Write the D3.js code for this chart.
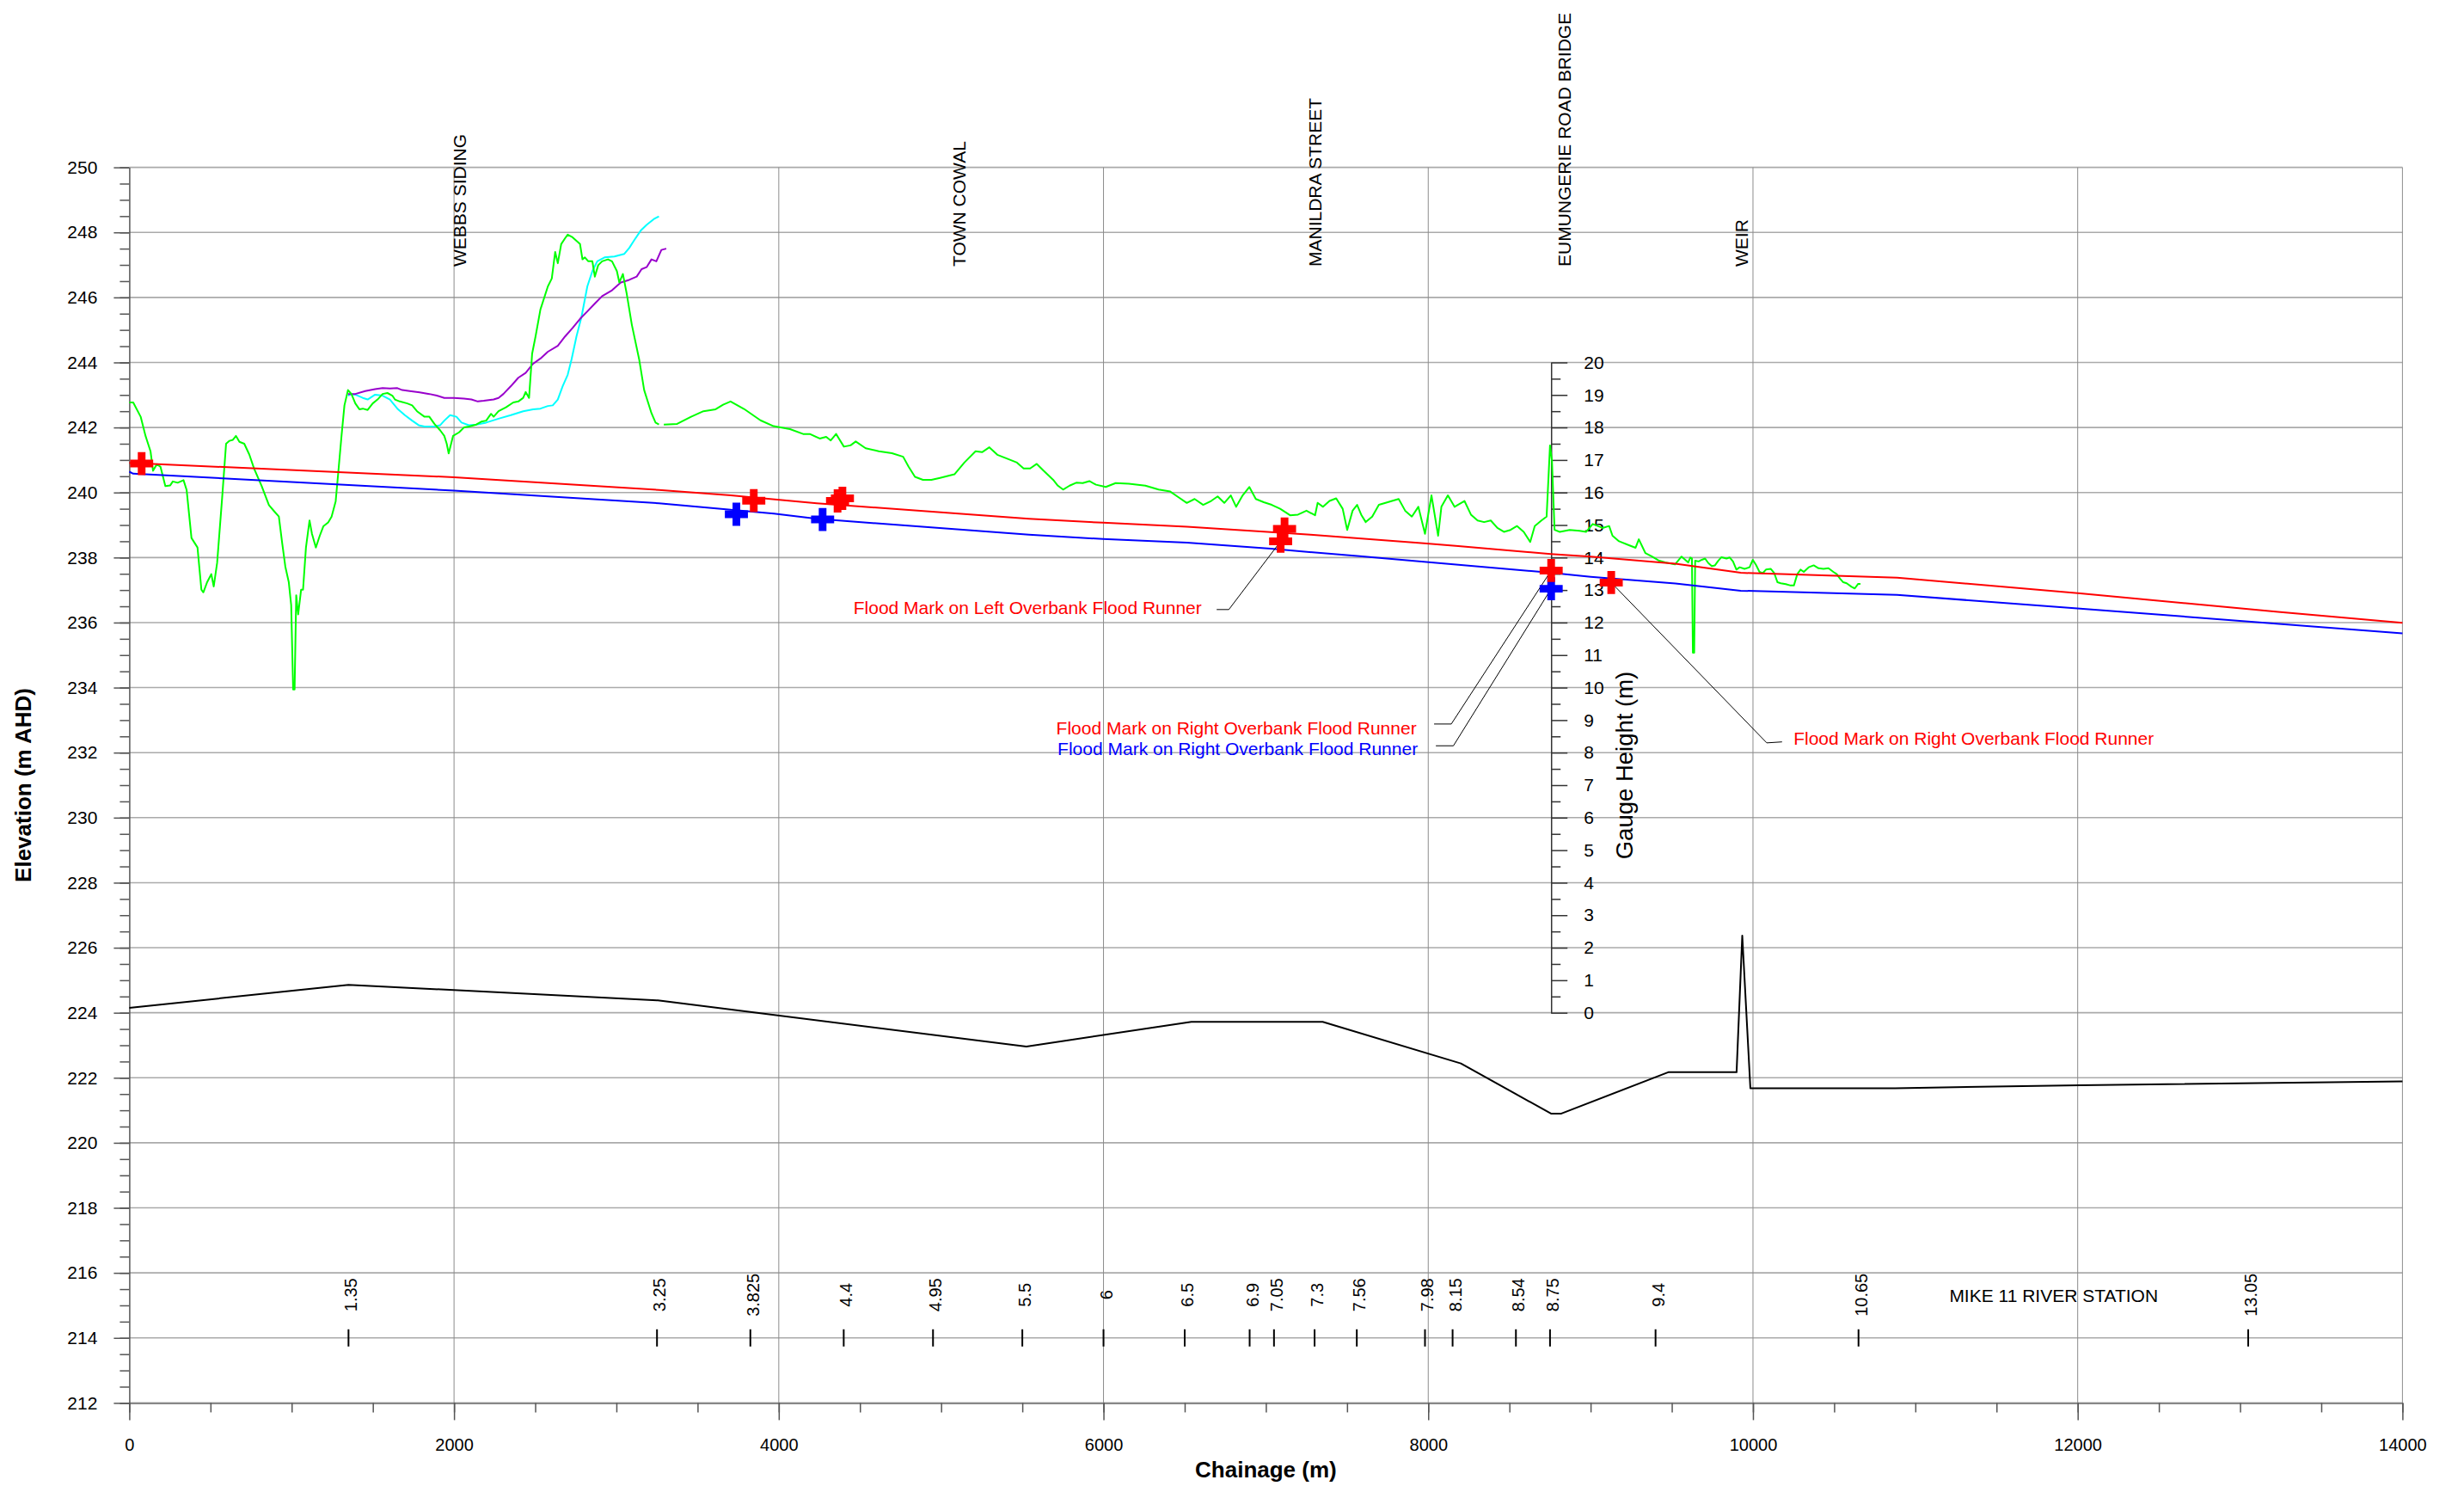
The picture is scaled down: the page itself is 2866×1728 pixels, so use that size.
<!DOCTYPE html>
<html>
<head>
<meta charset="utf-8">
<script src="https://cdn.jsdelivr.net/npm/d3@7"></script>
<style>
  body { margin: 0; background: #fff; }
  svg { display: block; }
  text { font-family: "Liberation Sans", Arial, sans-serif; }
</style>
</head>
<body>
<svg id="chart" width="2866" height="1728"></svg>
<script>
// Water surface long section - chainage vs elevation

// Ground / bank profile (green), null = break in the survey line
const groundProfile = [
  [0,242.77],[24,242.77],[70,242.33],[100,241.74],[131,241.26],[146,240.67],[170,240.87],[192,240.79],[222,240.2],[252,240.22],
  [268,240.34],[298,240.3],[334,240.38],[353,240.08],[383,238.6],[420,238.31],[444,237.01],[456,236.93],[480,237.25],[505,237.49],
  [520,237.11],[541,237.84],[572,239.85],[596,241.5],[617,241.59],[638,241.62],[657,241.74],[678,241.56],[708,241.5],[739,241.17],
  [769,240.73],[815,240.2],[860,239.61],[891,239.43],[921,239.26],[942,238.43],[961,237.72],[982,237.25],[997,236.54],[1009,233.94],
  [1018,233.94],[1028,236.84],[1040,236.25],[1058,237.01],[1070,237.01],[1088,238.31],[1110,239.14],[1125,238.73],[1149,238.31],[1173,238.67],
  [1195,238.96],[1225,239.08],[1246,239.26],[1271,239.73],[1286,240.56],[1307,241.74],[1325,242.68],[1347,243.15],[1368,243.03],[1392,242.74],
  [1417,242.56],[1438,242.58],[1468,242.54],[1499,242.74],[1529,242.86],[1560,243.03],[1590,243.06],[1620,242.98],[1636,242.86],[1666,242.8],
  [1712,242.74],[1742,242.68],[1772,242.5],[1818,242.33],[1848,242.33],[1879,242.11],[1915,241.91],[1940,241.74],[1955,241.5],[1967,241.2],
  [1979,241.44],[1994,241.74],[2031,241.85],[2061,242.0],[2092,242.03],[2137,242.09],[2168,242.18],[2198,242.21],[2228,242.42],[2244,242.33],
  [2274,242.5],[2320,242.62],[2365,242.77],[2396,242.8],[2426,242.91],[2441,243.09],[2462,242.91],[2481,244.27],[2502,244.8],[2532,245.63],
  [2578,246.34],[2602,246.58],[2623,247.4],[2639,247.05],[2660,247.64],[2684,247.82],[2700,247.93],[2730,247.85],[2776,247.64],[2791,247.17],
  [2806,247.23],[2827,247.11],[2852,247.11],[2867,246.64],[2888,246.99],[2912,247.11],[2948,247.17],[2973,247.11],[3003,246.81],[3018,246.46],
  [3040,246.72],[3064,246.1],[3095,245.16],[3140,244.1],[3171,243.15],[3216,242.44],[3241,242.15],[3262,242.09],
  null,
  [3292,242.09],[3374,242.11],[3460,242.33],[3536,242.5],[3611,242.56],[3657,242.7],[3703,242.8],[3786,242.57],[3887,242.22],[3968,242.04],
  [4069,241.95],[4150,241.8],[4191,241.8],[4252,241.66],[4292,241.71],[4320,241.6],[4353,241.8],[4401,241.41],[4442,241.45],[4474,241.57],
  [4535,241.36],[4616,241.27],[4697,241.21],[4766,241.1],[4799,240.8],[4839,240.48],[4888,240.39],[4940,240.39],[4993,240.45],[5082,240.56],
  [5143,240.92],[5212,241.27],[5252,241.24],[5297,241.39],[5346,241.16],[5407,241.04],[5467,240.92],[5508,240.74],[5548,240.74],[5589,240.88],
  [5629,240.68],[5690,240.39],[5719,240.21],[5751,240.09],[5791,240.21],[5832,240.3],[5872,240.29],[5913,240.35],[5954,240.24],[6014,240.17],
  [6075,240.29],[6156,240.27],[6258,240.21],[6339,240.09],[6411,240.03],[6460,239.86],[6513,239.68],[6561,239.8],[6614,239.62],[6663,239.74],
  [6703,239.88],[6744,239.68],[6784,239.91],[6817,239.56],[6857,239.91],[6898,240.17],[6938,239.8],[6987,239.7],[7036,239.62],[7088,239.5],
  [7149,239.3],[7198,239.32],[7250,239.44],[7303,239.3],[7319,239.68],[7352,239.56],[7392,239.74],[7433,239.82],[7473,239.5],[7501,238.85],
  [7534,239.44],[7562,239.62],[7587,239.32],[7615,239.09],[7655,239.26],[7696,239.62],[7737,239.68],[7777,239.74],[7818,239.8],[7858,239.44],
  [7899,239.26],[7939,239.56],[7980,238.73],[8020,239.91],[8061,238.67],[8081,239.56],[8121,239.91],[8162,239.56],[8223,239.74],[8263,239.32],
  [8304,239.14],[8344,239.09],[8385,239.14],[8426,238.91],[8466,238.79],[8507,238.85],[8547,238.97],[8588,238.79],[8628,238.48],[8656,238.97],
  [8697,239.14],[8729,239.26],[8750,241.45],[8762,240.97],[8778,238.85],[8810,238.79],[8871,238.85],[8932,238.82],[8973,238.79],[9013,239.03],
  [9074,238.91],[9114,238.97],[9135,238.67],[9175,238.5],[9236,238.38],[9277,238.3],[9297,238.56],[9337,238.14],[9378,238.03],[9418,237.91],
  [9459,237.85],[9520,237.79],[9560,238.03],[9601,237.85],[9614,238.0],[9624,237.97],[9630,235.07],[9638,235.07],[9644,237.9],[9665,237.88],
  [9685,237.93],[9705,237.97],[9725,237.83],[9746,237.74],[9766,237.76],[9786,237.9],[9806,238.01],[9837,237.97],[9857,238.0],[9877,237.88],
  [9898,237.63],[9918,237.7],[9948,237.65],[9979,237.7],[9999,237.93],[10019,237.77],[10040,237.56],[10060,237.52],[10080,237.63],[10110,237.65],
  [10131,237.52],[10151,237.24],[10171,237.21],[10202,237.18],[10232,237.14],[10252,237.14],[10273,237.49],[10293,237.63],[10313,237.56],[10343,237.7],
  [10374,237.76],[10404,237.67],[10434,237.65],[10465,237.67],[10495,237.56],[10516,237.49],[10536,237.35],[10556,237.24],[10577,237.21],[10607,237.1],
  [10627,237.05],[10648,237.19],[10662,237.19]
];

// Cyan profile
const cyanProfile = [
  [1347,242.98],[1368,243.03],[1392,243.01],[1438,242.91],[1468,242.86],[1514,243.01],[1560,242.98],[1605,242.86],[1651,242.58],[1697,242.38],
  [1742,242.21],[1782,242.07],[1818,242.03],[1879,242.03],[1915,242.07],[1940,242.21],[1976,242.38],[2015,242.33],[2046,242.15],[2092,242.07],
  [2137,242.09],[2198,242.15],[2274,242.27],[2350,242.38],[2426,242.5],[2487,242.56],[2532,242.58],[2578,242.66],[2608,242.68],[2639,242.86],
  [2669,243.27],[2700,243.62],[2724,244.1],[2754,244.8],[2785,245.4],[2821,246.34],[2852,246.81],[2882,247.11],[2927,247.23],[2988,247.26],
  [3049,247.34],[3079,247.52],[3110,247.76],[3149,248.05],[3186,248.23],[3231,248.41],[3262,248.49]
];

// Purple profile
const purpleProfile = [
  [1347,243.03],[1392,243.03],[1453,243.12],[1514,243.18],[1560,243.21],[1605,243.2],[1651,243.21],[1681,243.15],[1727,243.12],[1788,243.08],
  [1848,243.03],[1894,242.98],[1940,242.91],[2000,242.91],[2061,242.89],[2107,242.86],[2146,242.8],[2183,242.82],[2244,242.86],[2274,242.91],
  [2304,243.03],[2350,243.27],[2396,243.53],[2441,243.68],[2487,243.96],[2532,244.12],[2578,244.33],[2639,244.51],[2684,244.8],[2730,245.06],
  [2776,245.34],[2821,245.57],[2867,245.81],[2912,246.04],[2973,246.22],[3027,246.46],[3079,246.54],[3125,246.64],[3155,246.87],[3186,246.93],
  [3216,247.17],[3246,247.11],[3277,247.46],[3307,247.5]
];

// Modelled flood levels
const redLevel = [
  [0,240.91],[2000,240.47],[3262,240.08],[3704,239.91],[4234,239.67],[5541,239.19],[5997,239.07],[6514,238.95],[7030,238.78],[7274,238.7],
  [7973,238.44],[8185,238.35],[8754,238.11],[9000,238.03],[9522,237.81],[9925,237.53],[10888,237.38],[12015,236.9],[13234,236.33],[14000,235.99]
];
const blueLevel = [
  [0,240.64],[24,240.58],[2000,240.06],[3262,239.67],[3970,239.35],[4234,239.19],[5541,238.7],[5997,238.57],[6514,238.46],[7030,238.27],
  [7578,238.04],[7973,237.87],[8754,237.53],[9000,237.41],[9522,237.2],[9925,236.98],[10888,236.85],[12015,236.43],[14000,235.67]
];

// Channel bed (black)
const bedLevel = [
  [0,224.15],[1350,224.86],[3255,224.38],[5525,222.96],[6541,223.72],[7350,223.72],[8201,222.44],[8756,220.9],[8820,220.9],[9478,222.17],
  [9899,222.17],[9934,226.37],[9984,221.68],[10874,221.68],[12013,221.77],[14000,221.89]
];

// Surveyed flood marks
const redMarks = [[76,240.89],[3846,239.75],[4362,239.74],[4392,239.82],[7091,238.5],[7115,238.88],[8757,237.6],[9127,237.23]];
const blueMarks = [[3739,239.33],[4270,239.17],[8757,237.04]];

// Annotations: text end/start point, leader elbow points, target mark (all chainage, elevation)
const annotations = [
  { text: "Flood Mark on Left Overbank Flood Runner", color: "#ff0000", anchor: "end",
    at: [6605, 236.26], leader: [[6697, 236.4], [6772, 236.4], [7091, 238.5]] },
  { text: "Flood Mark on Right Overbank Flood Runner", color: "#ff0000", anchor: "end",
    at: [7928, 232.57], leader: [[8036, 232.88], [8142, 232.88], [8757, 237.6]] },
  { text: "Flood Mark on Right Overbank Flood Runner", color: "#0000ff", anchor: "end",
    at: [7936, 231.92], leader: [[8047, 232.21], [8155, 232.21], [8757, 237.04]] },
  { text: "Flood Mark on Right Overbank Flood Runner", color: "#ff0000", anchor: "start",
    at: [10250, 232.24], leader: [[10179, 232.33], [10085, 232.3], [9127, 237.23]] }
];

// Locations along the river
const locationNames = ["WEBBS SIDING", "TOWN COWAL", "MANILDRA STREET", "EUMUNGERIE ROAD BRIDGE", "WEIR"];
const locationChainage = [2034, 5113, 7303, 8837, 9932];

// MIKE 11 river stations (km)
const stationLabels = ["1.35","3.25","3.825","4.4","4.95","5.5","6","6.5","6.9","7.05","7.3","7.56","7.98","8.15","8.54","8.75","9.4","10.65","13.05"];
const stationChainage = [1350,3250,3825,4400,4950,5500,6000,6500,6900,7050,7300,7560,7980,8150,8540,8750,9400,10650,13050];
const stationLevel = 214;

// Gauge board
const gaugeChainage = 8757;
const gaugeZero = 224;
const gaugeTicks = d3.range(0, 21, 1);

const elevTicks = d3.range(212, 251, 2);
const chainTicks = d3.range(0, 14001, 2000);

// Layout
const W = 2866, H = 1728;
const margin = { left: 150.4, right: 71.6, top: 194.6, bottom: 96.6 };
const FONT = '"Liberation Sans", Arial, sans-serif';

const svg = d3.select('#chart');

const x = d3.scaleLinear().domain([0, 14000]).range([margin.left, W - margin.right]);
const y = d3.scaleLinear().domain([212, 250]).range([H - margin.bottom, margin.top]);
const g = d3.scaleLinear().domain([0, 20]).range([y(gaugeZero), y(gaugeZero + 20)]);

// Grid
svg.append('g')
  .selectAll('line')
  .data(elevTicks)
  .join('line')
  .attr('x1', x(0)).attr('x2', x(14000))
  .attr('y1', d => y(d)).attr('y2', d => y(d))
  .attr('stroke', '#aaaaaa')
  .attr('stroke-width', 1.6);

svg.append('g')
  .selectAll('line')
  .data(chainTicks.slice(1))
  .join('line')
  .attr('x1', d => x(d)).attr('x2', d => x(d))
  .attr('y1', y(250)).attr('y2', y(212))
  .attr('stroke', '#8c8c8c')
  .attr('stroke-width', 1);

// Y axis (elevation)
const yAxis = svg.append('g')
  .attr('transform', `translate(${x(0)},0)`)
  .call(d3.axisLeft(y).tickValues(elevTicks).tickSize(18).tickSizeOuter(0).tickPadding(19).tickFormat(d3.format('d')));
yAxis.select('.domain').attr('stroke', '#555').attr('stroke-width', 1.5);
yAxis.selectAll('.tick line').attr('stroke', '#555').attr('stroke-width', 1.5);
yAxis.selectAll('text').attr('font-family', FONT).attr('font-size', 21).attr('fill', '#000');

const yMinor = svg.append('g')
  .attr('transform', `translate(${x(0)},0)`)
  .call(d3.axisLeft(y).tickValues(d3.range(212, 250.01, 0.5)).tickSize(11).tickSizeOuter(0).tickFormat(''));
yMinor.select('.domain').remove();
yMinor.selectAll('.tick line').attr('stroke', '#555').attr('stroke-width', 1.5);

// X axis (chainage)
const xAxis = svg.append('g')
  .attr('transform', `translate(0,${y(212)})`)
  .call(d3.axisBottom(x).tickValues(chainTicks).tickSize(20).tickSizeOuter(0).tickPadding(21).tickFormat(d3.format('d')));
xAxis.select('.domain').attr('stroke', '#888').attr('stroke-width', 2);
xAxis.selectAll('.tick line').attr('stroke', '#555').attr('stroke-width', 1.5);
xAxis.selectAll('text').attr('font-family', FONT).attr('font-size', 20).attr('fill', '#000');

const xMinor = svg.append('g')
  .attr('transform', `translate(0,${y(212)})`)
  .call(d3.axisBottom(x).tickValues(d3.range(0, 14001, 500)).tickSize(11).tickSizeOuter(0).tickFormat(''));
xMinor.select('.domain').remove();
xMinor.selectAll('.tick line').attr('stroke', '#555').attr('stroke-width', 1.5);

// Axis titles
svg.append('text')
  .attr('x', (x(0) + x(14000)) / 2).attr('y', 1718)
  .attr('text-anchor', 'middle')
  .attr('font-family', FONT).attr('font-size', 26).attr('font-weight', 'bold')
  .text('Chainage (m)');

svg.append('text')
  .attr('transform', `translate(36,913) rotate(-90)`)
  .attr('text-anchor', 'middle')
  .attr('font-family', FONT).attr('font-size', 26).attr('font-weight', 'bold')
  .text('Elevation (m AHD)');

// Gauge axis
const gx = x(gaugeChainage);
const gAxis = svg.append('g')
  .attr('transform', `translate(${gx},0)`)
  .call(d3.axisRight(g).tickValues(gaugeTicks).tickSize(19).tickSizeOuter(0).tickPadding(19).tickFormat(d3.format('d')));
gAxis.select('.domain').attr('stroke', '#333').attr('stroke-width', 1.5);
gAxis.selectAll('.tick line').attr('stroke', '#333').attr('stroke-width', 1.5);
gAxis.selectAll('text').attr('font-family', FONT).attr('font-size', 21).attr('fill', '#000');

const gMinor = svg.append('g')
  .attr('transform', `translate(${gx},0)`)
  .call(d3.axisRight(g).tickValues(d3.range(0.5, 20, 1)).tickSize(11).tickSizeOuter(0).tickFormat(''));
gMinor.select('.domain').remove();
gMinor.selectAll('.tick line').attr('stroke', '#333').attr('stroke-width', 1.5);

svg.append('text')
  .attr('transform', `translate(${gx + 95},890) rotate(-90)`)
  .attr('text-anchor', 'middle')
  .attr('font-family', FONT).attr('font-size', 27.5)
  .text('Gauge Height (m)');

// Location labels along the top
svg.append('g')
  .selectAll('text')
  .data(locationNames)
  .join('text')
  .attr('transform', (d, i) => `translate(${x(locationChainage[i])},310) rotate(-90)`)
  .attr('dy', '0.35em')
  .attr('font-family', FONT).attr('font-size', 21)
  .text(d => d);

// Lines
const line = d3.line()
  .defined(d => d !== null)
  .x(d => x(d[0]))
  .y(d => y(d[1]));

const series = [
  { data: bedLevel, color: '#000000', width: 2 },
  { data: cyanProfile, color: '#00ffff', width: 2 },
  { data: purpleProfile, color: '#9900cc', width: 2 },
  { data: groundProfile, color: '#00ff00', width: 2 },
  { data: blueLevel, color: '#0000ff', width: 2 },
  { data: redLevel, color: '#ff0000', width: 2 }
];
svg.append('g')
  .selectAll('path')
  .data(series)
  .join('path')
  .attr('d', d => line(d.data))
  .attr('fill', 'none')
  .attr('stroke', d => d.color)
  .attr('stroke-width', d => d.width)
  .attr('stroke-linejoin', 'round');

// River station markers
const stations = svg.append('g');
stations.selectAll('line')
  .data(stationChainage)
  .join('line')
  .attr('x1', d => x(d)).attr('x2', d => x(d))
  .attr('y1', y(stationLevel) - 10).attr('y2', y(stationLevel) + 10)
  .attr('stroke', '#000').attr('stroke-width', 2);
stations.selectAll('text')
  .data(stationLabels)
  .join('text')
  .attr('transform', (d, i) => `translate(${x(stationChainage[i]) + 3},${y(stationLevel) - 50}) rotate(-90)`)
  .attr('text-anchor', 'middle')
  .attr('dy', '0.35em')
  .attr('font-family', FONT).attr('font-size', 20)
  .text(d => d);
svg.append('text')
  .attr('x', x(11852)).attr('y', y(215.1))
  .attr('text-anchor', 'middle')
  .attr('font-family', FONT).attr('font-size', 21)
  .text('MIKE 11 RIVER STATION');

// Annotation leaders and text
const ann = svg.append('g');
annotations.forEach(a => {
  ann.append('path')
    .attr('d', d3.line().x(d => x(d[0])).y(d => y(d[1]))(a.leader))
    .attr('fill', 'none').attr('stroke', '#000').attr('stroke-width', 1);
  ann.append('text')
    .attr('x', x(a.at[0])).attr('y', y(a.at[1]))
    .attr('text-anchor', a.anchor)
    .attr('font-family', FONT).attr('font-size', 21)
    .attr('fill', a.color)
    .text(a.text);
});

// Flood mark crosses
const cross = d3.symbol().type(d3.symbolCross).size(400);
function drawMarks(data, color) {
  svg.append('g')
    .selectAll('path')
    .data(data)
    .join('path')
    .attr('transform', d => `translate(${x(d[0])},${y(d[1])})`)
    .attr('d', cross)
    .attr('fill', color);
}
drawMarks(blueMarks, '#0000ff');
drawMarks(redMarks, '#ff0000');
</script>
</body>
</html>
